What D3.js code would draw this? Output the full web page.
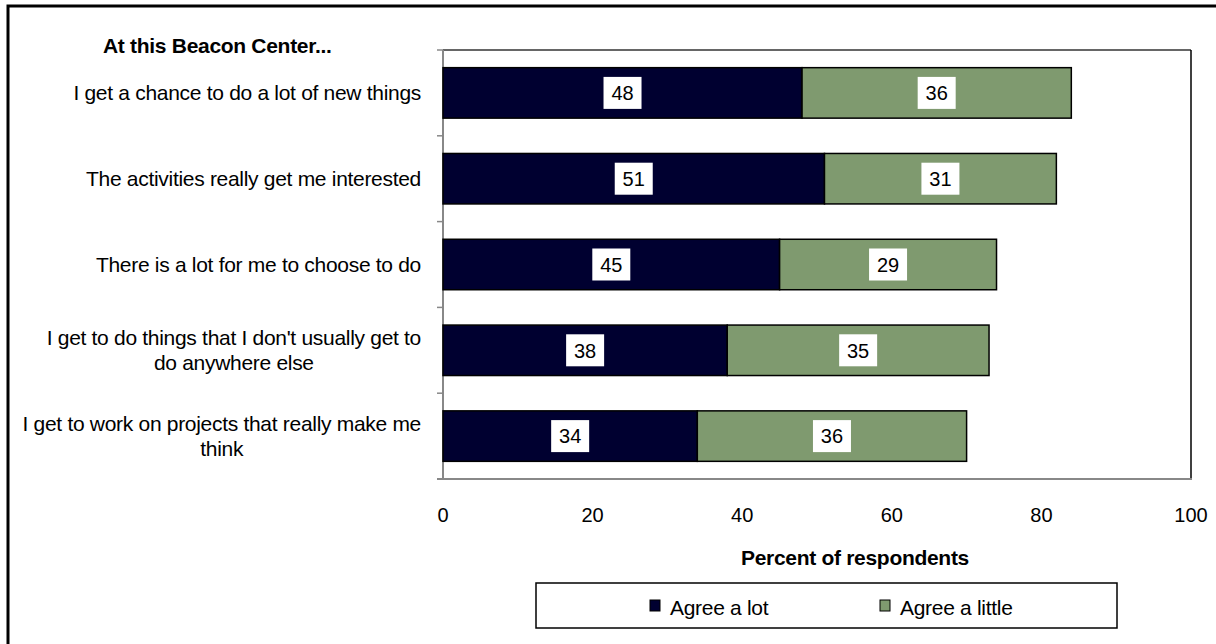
<!DOCTYPE html>
<html><head><meta charset="utf-8">
<script src="https://cdn.jsdelivr.net/npm/d3@7"></script>
<style>
html,body{margin:0;padding:0;background:#fff;}
text{font-family:"Liberation Sans",Arial,sans-serif;fill:#000;}
</style></head>
<body>
<svg id="chart" width="1216" height="644"></svg>
<script>
const categories = [
  ["I get a chance to do a lot of new things"],
  ["The activities really get me interested"],
  ["There is a lot for me to choose to do"],
  ["I get to do things that I don't usually get to", "do anywhere else"],
  ["I get to work on projects that really make me", "think"]
];
const seriesNames = ["Agree a lot", "Agree a little"];
const agreeLot = [48, 51, 45, 38, 34];
const agreeLittle = [36, 31, 29, 35, 36];
const xTicks = [0, 20, 40, 60, 80, 100];
const colors = ["#000030", "#7F9A6F"];

const svg = d3.select("#chart");
const L = 443, R = 1191, T = 50, B = 479;
const FS = 21, LS = -0.3;

// outer border
svg.append("rect").attr("x", 8).attr("y", 6).attr("width", 1300).attr("height", 700)
  .attr("fill", "none").attr("stroke", "#000").attr("stroke-width", 3);

const x = d3.scaleLinear().domain([0, 100]).range([L, R]);
const idx = categories.map((d, i) => i);
const y = d3.scaleBand().domain(idx).range([T, B]).paddingInner(0.7 / 1.7).paddingOuter(0.35 / 1.7);
const yb = d3.scaleBand().domain(idx).range([T, B]);

// plot frame
svg.append("line").attr("x1", L).attr("x2", R).attr("y1", T).attr("y2", T).attr("stroke", "#333").attr("stroke-width", 1.5);
svg.append("line").attr("x1", R).attr("x2", R).attr("y1", T).attr("y2", B).attr("stroke", "#000").attr("stroke-width", 1.5);
svg.append("line").attr("x1", L - 6).attr("x2", R + 1).attr("y1", B).attr("y2", B).attr("stroke", "#888").attr("stroke-width", 2);

// y axis with ticks at band boundaries
const yAxisG = svg.append("g");
yAxisG.append("line").attr("x1", L).attr("x2", L).attr("y1", T).attr("y2", B).attr("stroke", "#888").attr("stroke-width", 2);
const bounds = idx.map(i => yb(i)).concat([B]);
yAxisG.selectAll("line.tk").data(bounds).enter().append("line").attr("class", "tk")
  .attr("x1", L - 6).attr("x2", L).attr("y1", d => d).attr("y2", d => d)
  .attr("stroke", "#888").attr("stroke-width", 1.5);

// bars
const stackData = idx.map(i => ({i, vals: [agreeLot[i], agreeLittle[i]]}));
stackData.forEach(d => {
  let acc = 0;
  d.vals.forEach((v, s) => {
    const x0 = acc, x1 = acc + v;
    acc = x1;
    svg.append("rect").attr("x", x(x0)).attr("y", y(d.i)).attr("width", x(x1) - x(x0)).attr("height", y.bandwidth())
      .attr("fill", colors[s]).attr("stroke", "#000").attr("stroke-width", 1.5);
    const cx = (x(x0) + x(x1)) / 2, cy = y(d.i) + y.bandwidth() / 2;
    svg.append("rect").attr("x", cx - 19).attr("y", cy - 16).attr("width", 38).attr("height", 32).attr("fill", "#fff");
    svg.append("text").attr("x", cx).attr("y", cy).attr("dy", "0.36em").attr("text-anchor", "middle")
      .attr("font-size", 20).text(v);
  });
});

// category labels
const labelRight = 421;
categories.forEach((lines, i) => {
  const cy = yb(i) + yb.bandwidth() / 2;
  if (lines.length === 1) {
    svg.append("text").attr("x", labelRight).attr("y", cy).attr("dy", "0.36em").attr("text-anchor", "end")
      .attr("font-size", FS).attr("letter-spacing", LS).text(lines[0]);
  } else {
    const t1 = svg.append("text").attr("x", labelRight).attr("y", cy - 12.5).attr("dy", "0.36em").attr("text-anchor", "end")
      .attr("font-size", FS).attr("letter-spacing", LS).text(lines[0]);
    const w = t1.node().getComputedTextLength();
    svg.append("text").attr("x", labelRight - w / 2).attr("y", cy + 12.5).attr("dy", "0.36em").attr("text-anchor", "middle")
      .attr("font-size", FS).attr("letter-spacing", LS).text(lines[1]);
  }
});

// title
svg.append("text").attr("x", 103).attr("y", 45).attr("dy", "0.36em").attr("font-size", FS).attr("font-weight", "bold")
  .attr("letter-spacing", LS).text("At this Beacon Center...");

// x tick labels
svg.selectAll("text.xt").data(xTicks).enter().append("text").attr("class", "xt")
  .attr("x", d => x(d)).attr("y", 515).attr("dy", "0.36em").attr("text-anchor", "middle")
  .attr("font-size", 20).text(d => d);

svg.append("text").attr("x", (L + R) / 2 + 38).attr("y", 557).attr("dy", "0.36em").attr("text-anchor", "middle")
  .attr("font-size", FS).attr("font-weight", "bold").attr("letter-spacing", LS).text("Percent of respondents");

// legend
svg.append("rect").attr("x", 536).attr("y", 583).attr("width", 581).attr("height", 45)
  .attr("fill", "#fff").attr("stroke", "#000").attr("stroke-width", 1.5);
const legX = [650, 880];
seriesNames.forEach((n, s) => {
  svg.append("rect").attr("x", legX[s]).attr("y", 600).attr("width", 10).attr("height", 11)
    .attr("fill", colors[s]).attr("stroke", "#000").attr("stroke-width", 1);
  svg.append("text").attr("x", legX[s] + 20).attr("y", 607).attr("dy", "0.36em").attr("font-size", FS)
    .attr("letter-spacing", LS).text(n);
});
</script>
</body></html>
